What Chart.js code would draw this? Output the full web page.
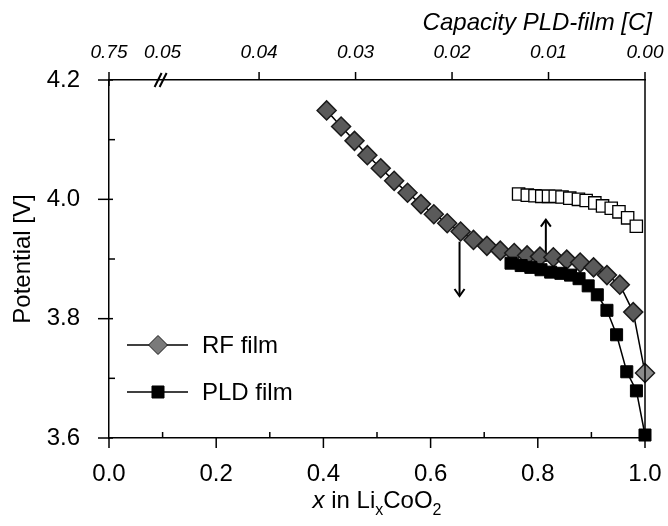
<!DOCTYPE html>
<html lang="en">
<head>
  <meta charset="UTF-8">
  <title>Potential vs x in LixCoO2</title>
  <script src="https://cdn.jsdelivr.net/npm/chart.js"></script>
  <style>
    body { margin: 0; background: #fff; }
    #grafico { display: block; }
  </style>
</head>
<body>

  <canvas id="grafico" width="668" height="526"></canvas>

<script>

  // RF film (diamonds), x in LixCoO2 vs potential
  const rfX = [0.406, 0.433, 0.458, 0.482, 0.507, 0.532, 0.557, 0.582, 0.606, 0.631, 0.656, 0.680, 0.705,
               0.730, 0.756, 0.780, 0.804, 0.829, 0.854, 0.879, 0.904, 0.929, 0.953, 0.978, 1.000];
  const rfV = [4.149, 4.122, 4.098, 4.074, 4.052, 4.031, 4.011, 3.992, 3.975, 3.960, 3.946, 3.932, 3.922,
               3.914, 3.910, 3.906, 3.904, 3.903, 3.899, 3.894, 3.886, 3.873, 3.857, 3.811, 3.709];

  // PLD film (filled squares)
  const pldX = [0.750, 0.769, 0.787, 0.806, 0.824, 0.843, 0.861, 0.877, 0.894, 0.911, 0.929, 0.947, 0.966, 0.984, 1.000];
  const pldV = [3.893, 3.889, 3.886, 3.882, 3.878, 3.876, 3.873, 3.867, 3.855, 3.840, 3.814, 3.773, 3.711, 3.679, 3.605];

  // PLD film against capacity (open squares, top axis)
  const capC = [0.0131, 0.0122, 0.0114, 0.0107, 0.0100, 0.0093, 0.0086, 0.0078, 0.0069, 0.0061, 0.0052, 0.0044,
                0.0035, 0.0027, 0.0018, 0.0009];
  const capV = [4.009, 4.007, 4.006, 4.005, 4.005, 4.005, 4.004, 4.002, 4.000, 3.998, 3.994, 3.989, 3.985,
                3.979, 3.969, 3.955];

  // ticks
  const xTicks = [0, 0.2, 0.4, 0.6, 0.8, 1.0];
  const xMinor = [0.1, 0.3, 0.5, 0.7, 0.9];
  const yTicks = [3.6, 3.8, 4.0, 4.2];
  const yMinor = [3.7, 3.9, 4.1];
  const capMax = 1 / 18;   // left end of the top axis (after the break)
  const capTicks = [0, 0.01, 0.02, 0.03, 0.04, 0.05, capMax];
  const capLabels = ['0.00', '0.01', '0.02', '0.03', '0.04', '0.05', '0.75'];

  // arrows: which curve belongs to which axis
  const setas = [
    { x: 0.654, de: 3.929, ate: 3.838 },
    { x: 0.815, de: 3.895, ate: 3.966 }
  ];

  const FONTE = "'Liberation Sans', Arial, sans-serif";

  function linha(ctx, x1, y1, x2, y2) {
    ctx.beginPath();
    ctx.moveTo(x1, y1);
    ctx.lineTo(x2, y2);
    ctx.stroke();
  }

  // no extra padding from the tick labels, the chart area is fixed
  function semPadding(s, h) {
    s.height = h;
    s.paddingLeft = 0;
    s.paddingRight = 0;
  }

  const extras = {
    id: 'extras',
    beforeDatasetsDraw(chart) {
      const ctx = chart.ctx;
      const sx = chart.scales.x, sy = chart.scales.y;
      ctx.save();
      ctx.strokeStyle = '#000';
      ctx.lineWidth = 2;
      for (const s of setas) {
        const px = sx.getPixelForValue(s.x);
        const y1 = sy.getPixelForValue(s.de);
        const y2 = sy.getPixelForValue(s.ate);
        linha(ctx, px, y1, px, y2);
        const d = y2 > y1 ? -7 : 7;
        ctx.beginPath();
        ctx.moveTo(px - 5, y2 + d);
        ctx.lineTo(px, y2);
        ctx.lineTo(px + 5, y2 + d);
        ctx.stroke();
      }
      ctx.restore();
    },
    afterDraw(chart) {
      const ctx = chart.ctx;
      const a = chart.chartArea;
      const sx = chart.scales.x, sy = chart.scales.y, st = chart.scales.x2;
      ctx.save();
      ctx.strokeStyle = '#000';
      ctx.lineWidth = 1.5;

      // right frame line
      linha(ctx, a.right, a.top, a.right, a.bottom);

      // tick marks
      yTicks.forEach(v => { const p = sy.getPixelForValue(v); linha(ctx, a.left - 11, p, a.left + 4, p); });
      yMinor.forEach(v => { const p = sy.getPixelForValue(v); linha(ctx, a.left, p, a.left + 6, p); });
      xTicks.forEach(v => { const p = sx.getPixelForValue(v); linha(ctx, p, a.bottom, p, a.bottom + 10); });
      xMinor.forEach(v => { const p = sx.getPixelForValue(v); linha(ctx, p, a.bottom, p, a.bottom - 6); });
      capTicks.forEach(v => {
        if (v === 0.05) return;
        const p = st.getPixelForValue(v);
        linha(ctx, p, a.top - 8, p, v === capMax ? a.top + 6 : a.top);
      });

      // axis break //
      const pb = st.getPixelForValue(0.05);
      ctx.lineWidth = 2;
      linha(ctx, pb - 8, a.top + 7, pb - 1, a.top - 7);
      linha(ctx, pb - 3, a.top + 7, pb + 4, a.top - 7);

      // legend
      const ds = chart.data.datasets;
      [[ds[0], 345], [ds[1], 392]].forEach(([d, y]) => {
        ctx.lineWidth = 1.5;
        ctx.strokeStyle = '#000';
        linha(ctx, 127, y, 188, y);
        ctx.fillStyle = d.legendColor;
        ctx.strokeStyle = d.pointBorderColor;
        ctx.lineWidth = 1;
        Chart.helpers.drawPoint(ctx, { pointStyle: d.pointStyle, radius: d.pointRadius, rotation: 0, borderWidth: 1 }, 158, y);
        ctx.fillStyle = '#000';
        ctx.font = '24px ' + FONTE;
        ctx.textAlign = 'left';
        ctx.textBaseline = 'middle';
        ctx.fillText(d.label, 202, y + 1);
      });

      // top title
      ctx.fillStyle = '#000';
      ctx.font = 'italic 24px ' + FONTE;
      ctx.textAlign = 'right';
      ctx.textBaseline = 'alphabetic';
      ctx.fillText('Capacity PLD-film [C]', 652, 30);

      // bottom title: x in LixCoO2
      const partes = [
        { t: 'x', f: 'italic 24px ', dy: 0 },
        { t: ' in Li', f: '24px ', dy: 0 },
        { t: 'x', f: '16px ', dy: 7 },
        { t: 'CoO', f: '24px ', dy: 0 },
        { t: '2', f: '16px ', dy: 7 }
      ];
      let total = 0;
      partes.forEach(p => { ctx.font = p.f + FONTE; p.w = ctx.measureText(p.t).width; total += p.w; });
      let cx = (a.left + a.right) / 2 - total / 2;
      ctx.textAlign = 'left';
      const base = 508;
      partes.forEach(p => { ctx.font = p.f + FONTE; ctx.fillText(p.t, cx, base + p.dy); cx += p.w; });

      ctx.restore();
    }
  };

  const dados = {
    datasets: [
      {
        label: 'RF film',
        data: rfX.map((x, i) => ({ x: x, y: rfV[i] })),
        xAxisID: 'x',
        order: 2,
        showLine: true,
        borderColor: '#000',
        borderWidth: 1.5,
        pointStyle: 'rectRot',
        pointRadius: 9.5,
        pointHoverRadius: 9.5,
        pointBackgroundColor: (c) => c.dataIndex === rfX.length - 1 ? '#8a8a8a' : '#5a5a5a',
        pointBorderColor: '#1a1a1a',
        pointBorderWidth: 1.5,
        legendColor: '#7a7a7a',
        clip: false
      },
      {
        label: 'PLD film',
        data: pldX.map((x, i) => ({ x: x, y: pldV[i] })),
        xAxisID: 'x',
        order: 1,
        showLine: true,
        borderColor: '#000',
        borderWidth: 1.5,
        pointStyle: 'rect',
        pointRadius: 8.5,
        pointHoverRadius: 8.5,
        pointBackgroundColor: '#000',
        pointBorderColor: '#000',
        pointBorderWidth: 1,
        legendColor: '#000',
        clip: false
      },
      {
        label: 'PLD film (capacity)',
        data: capC.map((c, i) => ({ x: c, y: capV[i] })),
        xAxisID: 'x2',
        order: 0,
        showLine: false,
        pointStyle: 'rect',
        pointRadius: 8.7,
        pointHoverRadius: 8.7,
        pointBackgroundColor: '#fff',
        pointBorderColor: '#000',
        pointBorderWidth: 1.3,
        clip: false
      }
    ]
  };

  const config = {
    type: 'scatter',
    data: dados,
    options: {
      responsive: false,
      animation: false,
      events: [],
      layout: { padding: { left: 0, right: 23, top: 0, bottom: 0 } },
      plugins: { legend: { display: false }, tooltip: { enabled: false } },
      scales: {
        x: {
          type: 'linear', position: 'bottom', min: 0, max: 1,
          afterBuildTicks: s => { s.ticks = xTicks.map(v => ({ value: v })); },
          afterFit: s => semPadding(s, 88),
          grid: { display: false, drawTicks: false },
          border: { display: true, color: '#000', width: 1.5 },
          ticks: { color: '#000', padding: 22, autoSkip: false, maxRotation: 0,
                   font: { family: FONTE, size: 24 }, callback: v => v.toFixed(1) }
        },
        x2: {
          type: 'linear', position: 'top', min: 0, max: capMax, reverse: true,
          afterBuildTicks: s => { s.ticks = capTicks.map(v => ({ value: v })); },
          afterFit: s => semPadding(s, 80),
          grid: { display: false, drawTicks: false },
          border: { display: true, color: '#000', width: 1.5 },
          ticks: { color: '#000', padding: 16, autoSkip: false, maxRotation: 0,
                   font: { family: FONTE, size: 19, style: 'italic' },
                   callback: (v, i) => capLabels[i] }
        },
        y: {
          type: 'linear', position: 'left', min: 3.6, max: 4.2,
          afterBuildTicks: s => { s.ticks = yTicks.map(v => ({ value: v })); },
          afterFit: s => { s.width = 109; s.paddingTop = 0; s.paddingBottom = 0; },
          grid: { display: false, drawTicks: false },
          border: { display: true, color: '#000', width: 1.5 },
          ticks: { color: '#000', padding: 29, autoSkip: false,
                   font: { family: FONTE, size: 24 }, callback: v => v.toFixed(1) },
          title: { display: true, text: 'Potential [V]', color: '#000',
                   font: { family: FONTE, size: 24 }, padding: { top: 9, bottom: 0 } }
        }
      }
    },
    plugins: [extras]
  };

  let meuGrafico = new Chart(document.getElementById('grafico'), config);

</script>
</body>
</html>
